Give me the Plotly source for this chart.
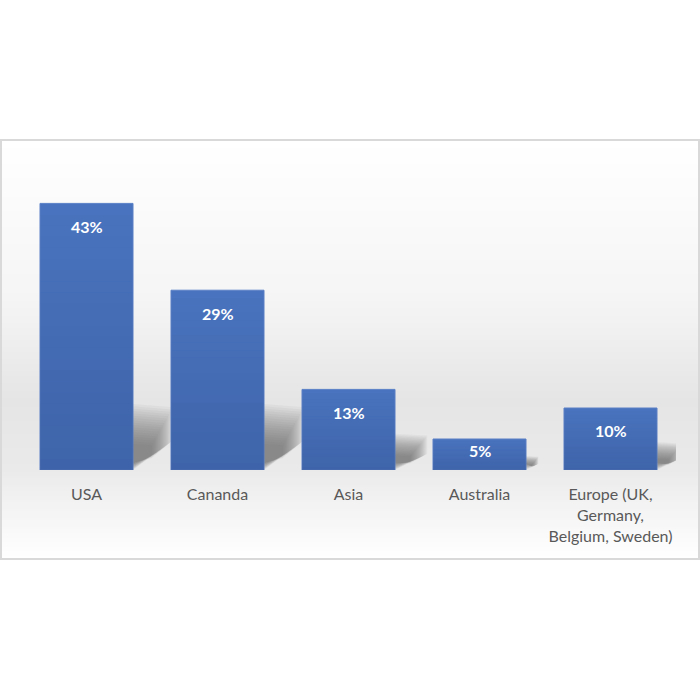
import plotly.graph_objects as go

categories = ["USA", "Cananda", "Asia", "Australia", "Europe (UK,<br>Germany,<br>Belgium, Sweden)"]
values = [43, 29, 13, 5, 10]
labels = ["43%", "29%", "13%", "5%", "10%"]

W, H = 700, 700
ML, MR, MT, MB = 21, 24, 190, 230
plot_h = H - MT - MB
px_per_unit = 6.2
ymax = plot_h / px_per_unit
px_per_cat = (W - ML - MR) / len(categories)
bargap = 0.29
half_bar = (1 - bargap) / 2

fig = go.Figure()
fig.add_trace(go.Bar(
    x=list(range(len(categories))), y=values,
    marker=dict(color="#4a74bf", line=dict(color="#5a80c6", width=1)),
    hoverinfo="skip",
))

shapes = []
box_top, box_bot = 140, 559
stops = [(140, (255, 255, 255)), (300, (245, 245, 245)), (400, (229, 229, 229)),
         (470, (234, 234, 234)), (510, (244, 244, 244)), (559, (255, 255, 255))]
def col_at(y):
    for (y0, c0), (y1, c1) in zip(stops[:-1], stops[1:]):
        if y0 <= y <= y1:
            t = (y - y0) / (y1 - y0)
            return tuple(round(a + (b - a) * t) for a, b in zip(c0, c1))
    return stops[-1][1]
pw = W - ML - MR
step = 3
y = box_top
while y < box_bot:
    y2 = min(y + step, box_bot)
    c = col_at((y + y2) / 2)
    shapes.append(dict(type="rect", xref="paper", yref="paper", layer="below",
                       x0=(1 - ML) / pw, x1=(699 - ML) / pw,
                       y0=(H - MB - y2) / plot_h, y1=(H - MB - y) / plot_h + 0.002,
                       fillcolor="rgb(%d,%d,%d)" % c, line=dict(width=0)))
    y = y2
shapes.append(dict(type="rect", xref="paper", yref="paper", layer="below",
                   x0=(1 - ML) / pw, x1=(699 - ML) / pw,
                   y0=(H - MB - box_bot) / plot_h, y1=(H - MB - box_top) / plot_h,
                   line=dict(color="#d9d9d9", width=2), fillcolor="rgba(0,0,0,0)"))

# soft shadows behind bars (derived from bar values)
N = 18
for i, v in enumerate(values):
    right = i + half_bar
    hpx = v * px_per_unit
    sh = min(0.45 * hpx, 66)
    w = min(0.4 * hpx, 40)
    for k in range(N):
        s = 1 - k / N * 0.8
        inset = (1 - s)
        top = sh * (0.2 + 0.8 * s)
        ww = w * (0.3 + 0.7 * s)
        path = "M {a},{b} L {c},{d} L {e},{f} L {a},{g} Z".format(
            a=right, b=top / px_per_unit,
            c=right + ww / px_per_cat, d=top * 0.95 / px_per_unit,
            e=right + ww / px_per_cat, f=top * 0.45 / px_per_unit,
            g=(inset * 10) / px_per_unit)
        shapes.append(dict(type="path", xref="x", yref="y", layer="below", path=path,
                           fillcolor="rgba(100,100,100,0.055)", line=dict(width=0)))

# vertical gradient on each bar (darker towards base)
M = 24
for i, v in enumerate(values):
    for k in range(M):
        y0 = v * k / M
        y1 = v * (k + 1) / M
        a = 0.21 * (1 - (k + 0.5) / M)
        shapes.append(dict(type="rect", xref="x", yref="y", layer="above",
                           x0=i - half_bar, x1=i + half_bar, y0=y0, y1=y1,
                           fillcolor="rgba(20,40,90,%.3f)" % a, line=dict(width=0)))

fig.update_layout(shapes=shapes)

for i, (v, t) in enumerate(zip(values, labels)):
    shift = min(23, v * px_per_unit * 0.37)
    fig.add_annotation(x=i, y=v, text="<b>%s</b>" % t, showarrow=False,
                       yshift=-shift, font=dict(color="white", size=16, family="Lato"))

fig.update_layout(
    width=W, height=H,
    margin=dict(l=ML, r=MR, t=MT, b=MB),
    paper_bgcolor="white", plot_bgcolor="rgba(0,0,0,0)",
    bargap=bargap, showlegend=False,
    xaxis=dict(tickmode="array", tickvals=list(range(len(categories))), ticktext=categories,
               range=[-0.5, len(categories) - 0.5], showgrid=False, zeroline=False,
               showline=False, ticks="", ticklabelstandoff=13,
               tickfont=dict(color="#595959", size=16, family="Lato")),
    yaxis=dict(range=[0, ymax], visible=False, showgrid=False),
)
fig.write_html("out.html", config={"displayModeBar": False},
               post_script="document.body.style.margin='0';document.body.style.overflow='hidden';")
